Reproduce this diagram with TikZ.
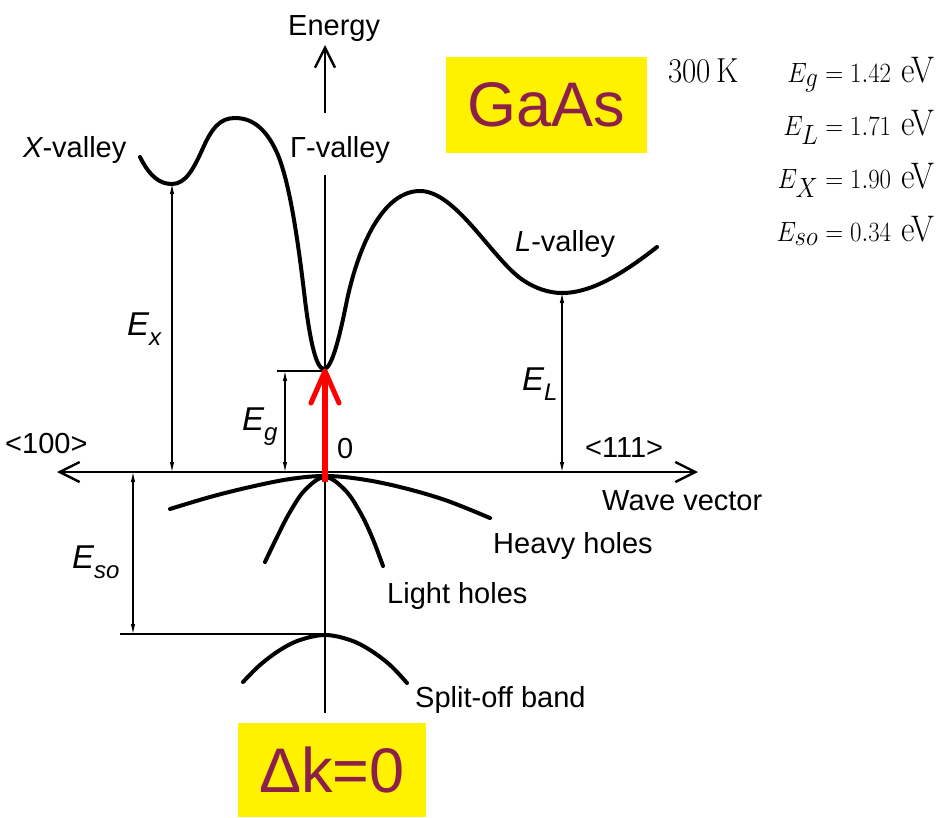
\documentclass[tikz,border=0pt]{standalone}
\usepackage{fontspec}
\newfontfamily\lab{Liberation Sans}
\usetikzlibrary{arrows.meta}
\definecolor{maroon}{RGB}{140,32,74}
\newcommand\Esub[2]{#1\raisebox{-0.32em}{\fontsize{24}{24}\selectfont #2}}
\newcommand\tallrow[1]{\scalebox{1}[1.12]{#1}}
\tikzset{
  band/.style={line width=4pt, line cap=round, line join=round},
  axisline/.style={line width=2.4pt},
  dimline/.style={line width=1.1pt, {Latex[length=10pt,width=4.5pt]}-{Latex[length=10pt,width=4.5pt]}},
  tick/.style={line width=1.1pt},
  lbl/.style={font={\lab\fontsize{29}{29}\selectfont}, inner sep=0pt, anchor=base west},
  sym/.style={font={\lab\itshape\fontsize{33}{33}\selectfont}, inner sep=0pt, anchor=base west},
  eqn/.style={font={\fontsize{33}{33}\selectfont}, inner sep=0pt, anchor=base east},
  hl/.style={fill=yellow, text=maroon, font={\lab\fontsize{63}{63}\selectfont}, inner sep=0pt},
  barb/.tip={Straight Barb[length=20pt,width=20pt]},
}
\begin{document}
\begin{tikzpicture}[x=1pt,y=-1pt]
\useasboundingbox (0,0) rectangle (937,817);
% axes
\coordinate (O) at (325,472);
\coordinate (Eax1) at (325,113);
\coordinate (Etip) at (325,45);
\coordinate (Eax2) at (325,175);
\coordinate (Ebot) at (325,713);
\coordinate (Lk) at (57,472);
\coordinate (Rk) at (698,472);
\draw[axisline,-{barb}] (Eax1) -- (Etip);
\draw[axisline] (Eax2) -- (Ebot);
\draw[axisline,{barb}-{barb}] (Lk) -- (Rk);
% conduction band
\draw[band] (140,157) .. controls (150,177) and (160,184) .. (172,184)
  .. controls (186,184) and (194,168) .. (203,148)
  .. controls (212,128) and (220,118) .. (235,118)
  .. controls (255,118) and (268,132) .. (278,155)
  .. controls (290,185) and (298,240) .. (305,300)
  .. controls (310,340) and (316,369) .. (324,369)
  .. controls (332,369) and (340,335) .. (347,300)
  .. controls (360,240) and (385,191) .. (420,191)
  .. controls (455,191) and (490,255) .. (520,278)
  .. controls (535,289) and (550,293) .. (562,293)
  .. controls (595,293) and (630,268) .. (657,247);
% valence bands
\draw[band] plot[smooth,tension=0.6] coordinates {(170,509) (210,497) (250,487) (290,479) (325,476) (360,479) (400,487) (445,500) (490,518)};
\draw[band] plot[smooth,tension=0.6] coordinates {(265,562) (278,535) (290,512) (305,490) (325,477) (345,490) (360,512) (372,537) (383,566)};
\draw[band] plot[smooth,tension=0.6] coordinates {(243,682) (260,665) (280,650) (300,640) (325,635) (350,640) (370,650) (390,665) (407,683)};
% dimension lines
\coordinate (Xmin) at (172,184);
\coordinate (Xax) at (172,472);
\coordinate (Gmin) at (285,371);
\coordinate (Gax) at (285,472);
\coordinate (Lmin) at (562,293);
\coordinate (Lax) at (562,472);
\coordinate (SOtop) at (133,472);
\coordinate (SObot) at (133,634);
\draw[dimline] (Xmin) -- (Xax);
\draw[dimline] (Gmin) -- (Gax);
\draw[dimline] (Lmin) -- (Lax);
\draw[dimline] (SOtop) -- (SObot);
\coordinate (gt1) at (277,371);
\coordinate (gt2) at (322,371);
\draw[tick] (gt1) -- (gt2);
\coordinate (so1) at (120,634);
\coordinate (so2) at (325,634);
\draw[tick] (so1) -- (so2);
% red arrow
\coordinate (r0) at (325,482);
\coordinate (r1) at (325,376);
\coordinate (rt) at (325,371);
\coordinate (rl) at (311,403);
\coordinate (rr) at (339,403);
\draw[red,line width=6.5pt] (r0) -- (r1);
\draw[red,line width=5pt,line cap=round,line join=round] (rl) -- (rt) -- (rr);
% labels
\node[lbl] (energy) at (288,35) {Energy};
\node[lbl] (xval) at (23,157) {{\itshape X}-valley};
\node[lbl] (gval) at (290,157) {Γ-valley};
\node[lbl] (lval) at (515,251) {{\itshape L}-valley};
\node[lbl] (k100) at (5,453) {<100>};
\node[lbl] (k111) at (585,457) {<111>};
\node[lbl] (zero) at (337,458) {0};
\node[lbl] (wave) at (602,510) {Wave vector};
\node[lbl] (heavy) at (493,553) {Heavy holes};
\node[lbl] (light) at (387,603) {Light holes};
\node[lbl] (split) at (415,707) {Split-off band};
\node[sym] (ex) at (127,335) {\Esub{E}{x}};
\node[sym] (eg) at (242,430) {\Esub{E}{g}};
\node[sym] (el) at (522,390) {\Esub{E}{L}};
\node[sym] (eso) at (72,568) {\Esub{E}{so}};
% highlight boxes
\node[hl, minimum width=201pt, minimum height=96pt] (gaas) at (546.5,105) {GaAs};
\node[hl, minimum width=188pt, minimum height=94pt] (dk) at (332,770) {Δk=0};
% parameters
\node[eqn, anchor=base west, font={\fontsize{31}{31}\selectfont}] (temp) at (668,82) {\tallrow{300\,K}};
\node[eqn] (eq1) at (935,82) {\tallrow{$E_g = 1.42$ eV}};
\node[eqn] (eq2) at (935,135) {\tallrow{$E_L = 1.71$ eV}};
\node[eqn] (eq3) at (935,188) {\tallrow{$E_X = 1.90$ eV}};
\node[eqn] (eq4) at (935,241) {\tallrow{$E_{so} = 0.34$ eV}};
\end{tikzpicture}
\end{document}
